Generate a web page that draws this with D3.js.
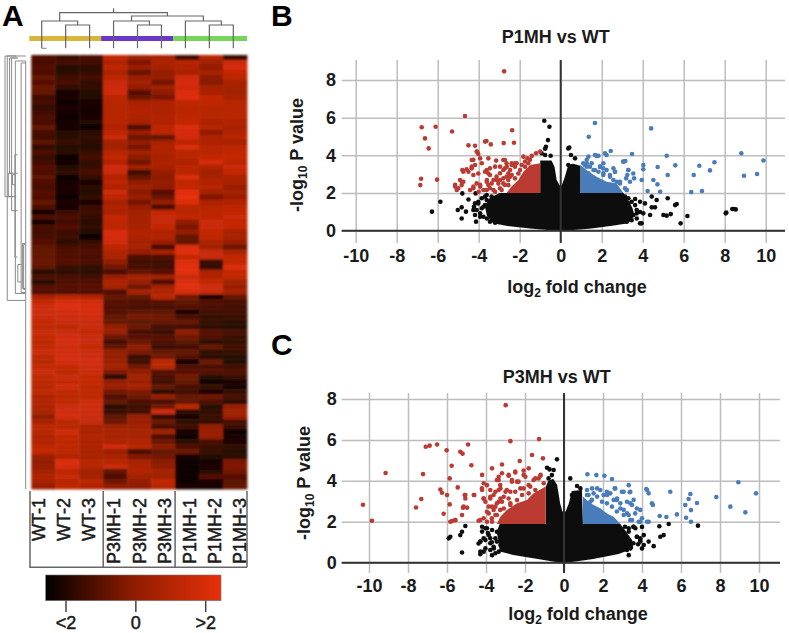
<!DOCTYPE html>
<html><head><meta charset="utf-8">
<script src="https://cdn.jsdelivr.net/npm/d3@7"></script>
<style>
html,body{margin:0;padding:0;background:#fff}
svg{display:block}
text{font-family:"Liberation Sans",Arial,sans-serif;fill:#1a1a1a}
</style></head><body>
<svg id="c" width="789" height="633"></svg>
<script>
// ---------- heatmap data (log ratio, one array per sample, top row first) ----------
const samples=["WT-1","WT-2","WT-3","P3MH-1","P3MH-2","P3MH-3","P1MH-1","P1MH-2","P1MH-3"];
const wt1=[-0.9,-1.0,-0.8,-0.9,-0.6,-0.8,-0.5,-0.6,-1.1,-1.0,-1.3,-1.1,-0.9,-1.0,-0.6,-1.0,-1.1,-0.7,-1.3,-0.9,-1.2,-1.1,-0.8,-0.9,
-0.7,-0.9,-1.0,-0.8,-0.9,-0.6,-0.9,-1.7,-0.9,-1.7,-1.0,-1.1,-1.0,-0.8,-0.7,-0.6,-0.6,-0.5,-0.7,-1.5,-0.9,-1.5,-0.8,-0.9,
0.6,1.2,1.4,1.4,1.3,1.2,1.1,1.3,1.2,1.0,1.2,1.3,1.1,0.9,1.2,1.3,1.1,1.0,0.9,1.1,
0.7,0.8,0.7,0.6,0.1,0.5,1.0,0.9,0.7,0.8,1.0,1.2,0.3,0.1,0.2,0.4,0.8,0.5,0.3];
const wt2=[-1.2,-1.0,-1.5,-1.4,-1.1,-1.0,-1.3,-1.7,-1.6,-1.8,-1.6,-1.7,-1.8,-1.7,-1.7,-1.5,-1.4,-1.2,-1.5,-1.4,-1.8,-1.7,-1.5,-1.3,
-1.8,-1.7,-1.6,-1.7,-1.8,-1.6,-1.7,-1.2,-0.9,-1.1,-0.8,-1.2,-1.1,-1.4,-1.0,-0.9,-0.9,-0.8,-1.2,-1.4,-1.0,-0.9,-0.8,-0.9,
0.9,1.6,1.7,1.5,1.4,1.3,1.0,1.3,1.5,1.6,1.4,1.5,1.6,1.5,1.2,1.0,1.3,1.2,1.4,1.1,
1.0,1.1,1.3,1.5,1.5,1.0,0.9,1.4,1.2,1.0,1.1,1.0,0.8,1.7,1.6,1.0,1.3,0.9,1.1];
const wt3=[-1.0,-1.1,-1.4,-1.3,-1.0,-1.3,-1.3,-1.5,-1.5,-1.6,-1.7,-1.7,-1.6,-1.5,-1.8,-1.4,-1.3,-1.4,-1.5,-1.2,-1.0,-1.3,-1.2,-1.0,
-1.3,-1.6,-1.4,-1.5,-1.3,-1.6,-1.2,-1.1,-1.3,-1.4,-1.3,-1.5,-1.9,-1.2,-1.0,-0.9,-1.0,-0.9,-1.3,-1.4,-1.1,-0.9,-0.8,-0.9,
0.8,1.5,1.6,1.6,1.5,1.3,1.3,1.2,1.3,1.3,1.2,1.3,1.4,1.5,1.4,1.3,1.2,1.2,1.0,1.1,
1.0,1.4,1.4,1.4,1.3,1.3,0.6,0.6,0.8,0.7,0.7,0.6,0.6,0.9,0.9,0.4,0.5,1.0,0.8];
const p3a=[1.2,0.7,1.1,0.7,1.0,1.3,1.4,1.5,1.0,0.9,0.9,0.9,0.9,0.9,0.8,1.0,1.3,0.5,0.4,0.9,1.2,0.8,1.5,1.3,
0.8,1.0,0.7,1.4,1.1,0.5,0.8,0.6,1.2,1.1,1.0,1.6,1.6,1.5,1.0,0.8,0.6,0.0,-0.4,-1.0,0.2,0.7,0.5,-0.9,
-0.6,-0.8,-0.9,-0.8,-0.7,-0.5,0.1,0.3,-0.5,-1.1,-0.7,0.2,0.1,0.3,0.5,-0.2,-1.5,0.1,0.3,-0.4,
-0.9,-0.6,-1.4,-1.2,-0.7,-0.5,0.4,0.6,0.5,0.7,1.4,0.3,0.6,0.9,1.3,-0.7,-0.9,-0.4,0.1];
const p3b=[0.4,-0.2,0.3,-0.6,0.3,0.4,0.2,-0.8,-0.5,0.6,0.7,0.8,0.7,0.5,-0.9,0.3,-0.5,0.1,-0.3,0.4,0.0,-0.4,0.5,-1.1,
-0.6,0.1,0.4,-0.1,0.3,-0.4,0.3,0.4,0.5,0.5,0.6,0.8,0.7,0.5,0.6,0.2,-0.9,-1.1,-1.0,-0.6,0.5,0.2,-0.4,0.6,
-0.6,-0.9,-1.0,-0.7,-0.3,-0.7,-0.5,-1.0,-0.8,-0.5,0.0,-0.2,-1.2,-1.1,-0.4,0.1,0.4,0.3,0.5,-0.2,
-0.5,-1.0,-1.1,-1.1,0.2,0.3,0.4,0.6,0.5,0.8,0.9,-1.0,-0.2,0.5,0.7,0.8,0.4,0.2,0.0];
const p3c=[0.6,0.7,0.5,0.2,0.2,-0.4,0.4,0.0,-0.3,0.7,0.7,0.7,0.8,0.8,1.0,1.1,-0.6,0.5,0.8,0.7,0.6,0.7,0.6,0.2,
0.0,0.2,0.1,-0.8,-0.5,0.2,-1.0,1.2,1.3,1.3,1.2,0.7,0.8,0.3,-1.0,0.5,-0.9,-1.1,-1.1,-0.8,0.4,-0.9,0.4,0.8,
0.9,-0.8,-1.0,-0.7,-0.4,-0.6,-1.0,-1.2,-0.8,-0.9,-1.2,-0.6,-0.4,1.0,0.9,-0.8,-1.0,-1.1,-0.6,-1.4,
0.1,-1.0,-0.4,1.5,-1.3,-0.5,-1.0,0.4,-0.9,-0.5,0.0,-0.6,-0.4,-0.1,0.1,0.5,0.4,1.2,0.9];
const p1a=[-1.1,0.9,0.8,0.6,1.5,1.6,1.5,1.7,1.8,1.1,1.0,1.0,1.1,1.2,1.7,1.6,1.5,1.0,1.7,0.9,0.9,0.7,1.0,0.9,
1.7,1.1,1.2,1.9,2.0,1.7,1.0,0.9,1.2,0.0,-0.3,0.2,-0.6,-0.6,1.7,1.9,1.2,1.7,1.9,1.9,1.3,1.7,1.9,1.6,
-0.4,-0.7,-0.8,-1.6,-1.0,-0.6,-1.1,0.0,-0.4,-0.7,-1.1,-0.6,-0.8,-1.8,-0.9,-0.8,-0.4,-0.6,-1.0,-1.1,
-0.6,-0.6,1.0,-1.4,-1.7,-1.3,-1.1,-1.7,-1.9,-1.4,-0.9,-0.5,-1.7,-1.8,-1.9,-1.9,-1.8,-1.8,-1.6];
const p1b=[0.9,0.4,0.1,0.5,0.0,-0.1,0.5,0.6,1.2,1.1,0.9,0.9,0.9,0.7,0.9,0.1,0.7,0.7,0.9,0.9,1.2,1.6,0.8,0.4,
0.6,0.8,0.9,0.4,-0.2,0.7,0.9,1.0,1.0,1.4,1.3,1.2,1.1,0.7,0.4,1.3,1.3,-1.2,-1.3,0.6,0.8,1.2,1.5,1.3,
-1.6,-0.9,-1.0,-1.1,-1.3,-1.2,-1.4,-0.8,-0.9,-1.4,-0.6,-1.3,-1.5,-0.5,-1.0,-0.8,-1.5,-1.8,-1.2,-1.6,
-0.5,-0.9,-1.5,-1.3,-1.2,-1.3,0.1,0.2,0.2,-1.0,-1.2,-1.2,-1.5,-1.7,-1.6,-1.5,-0.8,-1.6,-1.7];
const p1c=[-1.2,1.4,1.6,1.2,1.0,0.6,0.5,0.4,0.6,0.9,0.9,0.9,0.9,0.8,0.6,0.8,0.9,0.5,1.0,1.1,1.2,1.0,1.3,1.2,
0.7,0.5,0.3,0.5,0.3,0.8,1.0,1.2,1.3,1.2,1.2,0.5,0.6,0.3,-0.5,0.6,1.1,1.2,1.7,1.2,1.1,0.4,0.3,0.5,
-0.6,-1.0,-1.1,-1.1,-1.2,-1.4,-1.5,-1.0,-1.2,-1.3,-1.1,-1.2,-1.5,-1.5,-1.1,-0.9,-1.2,-1.6,-1.7,-1.3,
-1.0,-1.4,0.2,0.4,0.3,-1.0,-1.2,-1.8,-1.7,-1.6,-1.3,-1.5,-1.4,-0.3,-0.2,-0.4,-0.8,-0.7,-0.6];
const columns=[wt1,wt2,wt3,p3a,p3b,p3c,p1a,p1b,p1c];
const groupColors=["#d8b53c","#6b37c8","#76d65c"];
const scaleTicks=[[-2,"<2"],[0,"0"],[2,">2"]];
// column tree: [left position, right position, merge height, left child height, right child height]
const colTree=[[1,2,0.583,0,0],[0,1.5,0.683,0,0.583],[4,5,0.583,0,0],[3,4.5,0.683,0,0.583],[7,8,0.583,0,0],[6,7.5,0.683,0,0.583],
 [3.75,6.75,0.808,0.683,0.683],[0.75,5.25,0.892,0.683,0.808]];
// row tree: [depth, from row, to row, right end depth]
const rowTree=[[0.11,0.2,49.2,1],[0,0.2,28.4,0.55],[0.22,0.6,23.7,0.62],[0.16,23.7,28.4,0.3],[0.32,0.6,31.2,0.6],[0.48,20,40.5,0.6],[0.36,24,26,0.5],
 [0.5,1.2,47.8,1],[0.78,1.6,47.6,1],[0.84,37.8,46.8,0.98],[0.62,42,45.5,0.8],[1,1.2,87,1],[0.9,38,47,1]];

// ---------- volcano data: [log2 fold change, -log10 P] ----------
const xTicks=d3.range(-10,11,2), yTicks=[0,2,4,6,8];
const p1Red=[[-2.76,8.46],[-4.67,6.09],[-6.78,5.49],[-6.10,5.52],[-5.30,5.27],[-2.37,5.33],[-6.62,4.90],[-6.44,4.37],[-4.50,4.53],[-4.18,4.51],[-3.69,4.73],[-3.62,4.76],[-3.41,4.58],[-2.78,4.65],[-2.28,4.67],[-6.81,2.76],[-6.85,2.42],[-6.03,2.71],[-4.07,4.19],[-4.02,4.07],[-4.34,3.75],[-4.18,3.49],[-3.53,3.84],[-3.15,3.72],[-2.72,3.75],[-2.23,3.58],[-4.8,3.22],[-4.59,3.26],[-4.34,3.31],[-4.02,3.04],[-3.61,3.22],[-3.53,3.04],[-2.96,3.4],[-2.63,3.4],[-2.39,3.49],[-4.75,2.6],[-5.15,2.34],[-5.07,2.16],[-4.83,2.42],[-4.42,2.16],[-4.26,2.34],[-4.1,2.51],[-3.93,2.34],[-3.61,2.6],[-3.37,2.51],[-3.12,2.69],[-2.8,2.51],[-2.47,2.87],[-2.07,3.04],[-3.61,2.16],[-3.28,2.16],[-2.96,2.25],[-2.55,2.42],[-4.0,2.07],
[-1.0,4.2],[-1.2,4.11],[-1.41,3.97],[-1.62,3.84],[-1.74,3.67],[-1.58,3.58],[-1.9,3.49],[-2.23,3.4],[-2.47,3.22],[-2.39,2.96],[-2.64,3.58],[-2.8,3.75],[-2.96,3.05],[-3.04,2.5],[-3.28,2.69],[-3.53,2.43],[-3.69,3.13],[-3.6,2.69],[-2.96,2.69],[-2.72,2.43],[-2.56,2.69],
[-1.82,3.93],[-1.5,3.76],[-1.98,3.22],[-1.74,3.4],[-2.15,3.58],[-2.39,3.58],[-2.72,3.31],[-2.55,3.05],[-2.8,2.78],[-3.13,2.87],[-3.2,3.4],[-3.45,3.31],[-3.85,3.58],[-3.93,3.84],[-4.1,4.2],[-4.26,3.76],[-4.34,3.4],[-4.5,3.13],[-4.75,3.13],[-4.91,2.69],[-5.15,2.43],[-5.0,2.25],[-4.83,2.6],[-4.26,2.96],[-4.26,2.25],[-3.93,2.43],[-3.77,2.16],[-3.45,2.25],[-3.2,2.07],[-2.88,2.16],[-3.45,2.96],[-2.64,2.87],[-2.23,2.78],[-2.8,3.22]];
const p1Blue=[[1.67,5.72],[4.41,5.43],[1.37,4.99],[5.17,3.98],[8.81,4.11],[9.89,3.73],[7.5,3.63],[6.76,3.45],[5.59,3.47],[4.73,3.38],[4.03,3.49],[4.03,3.26],[3.48,4.07],[3.06,3.66],[3.15,3.7],[2.44,4.23],[2.16,4.11],[1.84,3.98],[7.28,3.2],[6.49,2.96],[5.22,2.96],[8.94,2.92],[9.58,3.01],[6.89,2.11],[6.37,2.05],[4.85,2.07],[4.72,2.46],[4.52,2.69],[4.24,2.11],[3.95,2.69],[3.54,3.04],[3.58,2.78],[3.3,3.22],[3.25,2.96],[3.19,2.78],[2.65,3.13],[2.57,3.31],[2.08,3.58],[1.92,3.4],[1.35,3.93],[1.27,3.58],[1.43,3.4],[1.67,3.22],[2.08,2.96],[2.41,2.87],[2.89,2.51],[3.22,2.16],[2.73,2.6],[1.27,3.76],[1.1,3.58],[1.75,3.97],[2.24,4.02],[1.92,3.4],[2.08,3.05],[3.05,3.67],[3.3,3.22],[3.38,2.6],
[1.27,3.4],[1.51,3.58],[1.35,3.05],[1.6,3.22],[1.84,3.13],[2.24,3.22],[2.4,2.96],[2.65,3.13],[2.57,2.69],[2.89,2.6],[3.14,2.25],[3.22,2.16],[2.08,3.31],[1.67,4.02],[1.18,3.49]];
const p1Black=[[-0.8,5.84],[-0.55,5.52],[-0.62,4.81],[-0.72,4.46],[-0.76,4.35],[-0.93,4.11],[-0.76,4.02],[-0.49,3.98],[0.37,4.37],[0.42,4.42],[0.5,4.02],[0.7,3.84],[0.37,3.49],[-5.87,1.54],[-6.28,1.01],[-5.02,1.1],[-4.83,1.24],[-4.83,0.65],[-4.62,1.01],[-4.5,1.66],[-4.8,1.98],[-4.15,1.98],[-4.02,1.45],[-4.23,1.27],[-4.13,0.48],[-3.93,0.74],[-3.77,0.74],[-4.26,1.1],[-3.77,1.27],[-3.61,1.63],[-3.37,1.81],[-3.2,0.42],[3.63,1.68],[3.87,1.54],[4.11,1.45],[4.44,1.81],[4.68,1.63],[4.44,1.24],[4.6,1.24],[5.22,1.72],[5.58,1.36],[5.66,1.42],[5.01,0.83],[5.17,0.8],[5.37,0.88],[3.95,0.39],[3.71,0.92],[4.03,0.92],[4.36,0.83],[6.18,0.78],[5.85,0.39],[8.05,0.92],[8.08,0.97],[8.37,1.15],[8.54,1.13],[8.44,1.15],
[-4.18,1.45],[-4.02,1.54],[-3.85,1.72],[-3.69,1.81],[-3.61,1.89],[-4.1,1.1],[-3.93,0.92],[-3.6,0.65],[-3.45,0.83],[-3.85,1.19],[-3.69,1.36],[-3.45,0.48],[-4.18,0.83],[3.14,1.81],[3.3,1.72],[3.46,1.54],[3.63,1.36],[3.71,1.1],[3.55,0.83],[3.71,0.65],[3.46,0.56],[3.87,0.99],[3.3,1.45],[3.87,0.39],[3.22,0.48],[2.97,1.63]];
const p1Mass=[[-1,3.72],[-0.45,3.72],[-0.3,3.4],[-0.2,2.7],[-0.05,2.4],[0.05,2.4],[0.2,2.85],[0.37,3.5],[0.6,3.55],[0.97,3.45],[0.97,2],[3.06,2],[3.3,1.6],[3.5,1.2],[3.6,0.8],[3.3,0.4],[2.6,0.28],[1.5,0.12],[0.5,0.03],[0,0],[-0.5,0.03],[-1.5,0.12],[-2.6,0.25],[-3.3,0.4],[-3.6,0.8],[-3.7,1.3],[-3.5,1.7],[-3.0,2],[-1,2]];
const p1RedWedge=[[-1,2],[-1,3.58],[-1.5,3.49],[-1.82,3.13],[-2.06,2.69],[-2.4,2.34],[-2.64,2]];
const p1BlueWedge=[[0.97,2],[0.97,3.49],[1.26,3.22],[1.75,2.87],[2.24,2.6],[2.72,2.52],[3.06,2]];

const p3Red=[[-2.99,7.7],[-2.75,5.94],[-1.28,6.04],[-1.08,5.1],[-1.64,5.26],[-2.27,4.97],[-3.18,4.8],[-3.69,4.61],[-4.92,5.78],[-5.32,5.42],[-5.2,5.33],[-6.02,5.49],[-6.51,5.78],[-6.89,5.72],[-7.09,5.67],[-5.76,4.74],[-4.75,4.76],[-9.15,4.38],[-7.23,4.33],[-5.86,4.12],[-5.45,3.68],[-6.34,3.58],[-6.26,3.42],[-6.0,3.31],[-7.32,3.11],[-7.59,2.7],[-10.31,2.83],[-9.85,2.05],[-5.86,2.85],[-6.17,2.39],[-5.74,2.04],[-5.57,2.08],[-5.09,3.31],[-5.06,3.14],[-4.6,3.31],[-5.18,2.69],[-4.97,2.69],[-5.23,2.33],[-4.38,2.05],[-4.12,3.88],[-4.21,3.63],[-3.95,3.79],[-4.12,3.14],[-3.78,3.14],[-3.95,2.49],[-3.35,4.2],[-3.44,4.04],[-2.84,4.25],[-2.5,4.41],[-2.07,4.5],[-1.81,4.61],[-1.98,4.2],[-1.47,4.12],[-1.21,4.25],[-2.67,3.96],[-2.41,3.96],[-3.26,3.63],[-3.61,3.31],[-3.26,3.14],[-3.69,2.74],[-3.44,2.33],[-3.95,2.0],[-2.75,3.47],[-2.24,3.63],[-1.81,3.79],[-3.09,2.65],[-2.75,2.82],[-2.41,3.06],
[-1.2,4.29],[-1.56,4.04],[-2.07,4.29],[-2.5,4.45],[-2.67,4.04],[-2.33,3.96],[-2.07,3.63],[-1.73,3.72],[-2.93,3.55],[-3.27,3.8],[-3.52,3.47],[-3.78,3.22],[-4.03,2.98],[-3.86,2.41],[-3.52,2.74],[-4.29,2.09],[-3.09,3.22],[-2.75,2.9],[-3.35,2.98],[-3.7,2.17],
[-1.04,3.88],[-1.3,4.12],[-1.47,3.55],[-1.81,3.39],[-2.15,3.31],[-2.5,3.47],[-2.84,3.14],[-3.18,2.98],[-3.44,2.9],[-3.61,2.58],[-3.86,2.74],[-4.12,3.14],[-4.2,3.55],[-3.78,3.55],[-3.35,3.55],[-3.0,3.47],[-3.35,4.04],[-3.18,4.37],[-2.84,4.29],[-4.12,2.17],[-3.69,2.0],[-3.52,2.33],[-3.27,2.58],[-4.63,3.31],[-5.06,3.31],[-5.15,2.74],[-5.58,2.09],[-5.83,2.0],[-4.2,4.29]];
const p3Blue=[[1.2,4.32],[1.66,4.28],[2.07,4.25],[2.46,4.09],[3.32,3.79],[4.22,3.6],[4.34,3.39],[2.6,3.63],[3.06,3.47],[3.37,3.44],[5.45,3.47],[4.56,2.82],[6.48,3.36],[6.39,3.11],[6.22,2.82],[6.51,2.57],[6.82,2.92],[7.81,3.21],[8.94,3.93],[9.85,3.39],[8.53,2.74],[9.3,2.46],[5.79,2.36],[4.91,2.28],[5.25,2.23],[6.26,2.2],[6.51,2.0],[4.34,2.0],[3.91,2.0],[3.74,2.65],[3.49,2.82],[2.89,2.65],[3.06,2.33],[3.23,2.98],[2.72,3.14],[2.21,3.31],[1.86,3.55],[1.44,3.63],[1.26,3.31],[1.35,2.98],[4,2.17],[3.4,2.08],[1.18,3.55],[1.7,3.63],[2.2,3.47],[2.63,3.63],[2.97,3.47],[3.4,3.47],[2.55,3.07],[2.89,2.9],[3.4,2.9],[3.57,3.07],[3.91,2.58],[3.65,2.41],[4.26,2.0],[3.32,2.33],[4.51,2.9],[4.26,3.55],
[1.18,3.31],[1.43,3.07],[1.7,3.23],[1.52,3.39],[1.26,2.9],[1.95,2.98],[2.2,2.9],[2.46,2.74],[2.03,3.31],[2.71,2.5],[3.06,2.58],[3.23,2.41],[3.49,2.09],[3.83,2.0],[2.71,3.07],[2.37,3.39]];
const p3Black=[[-0.36,5.05],[-0.87,4.64],[-0.74,4.56],[-0.53,4.53],[-0.62,4.28],[-0.79,4.12],[0.32,4.12],[0.67,3.75],[0.84,3.63],[0.41,3.31],[-5.06,1.79],[-5.83,1.27],[-5.91,1.19],[-5.23,1.51],[-5.32,1.35],[-5.23,0.5],[-4.29,1.03],[-4.38,0.94],[-4.12,1.19],[-4.2,1.76],[-3.95,1.68],[-4.29,0.41],[-4.12,0.54],[-4.29,0.54],[-3.69,0.37],[-3.6,0.7],[-3.78,1.19],[-3.44,1.51],[-3.26,0.86],[-3.44,1.03],[-3.9,1.45],[-3.7,1.0],[6.87,1.81],[5.37,1.89],[4.89,1.78],[5.11,1.35],[4.94,1.27],[4.6,0.81],[4.34,1.03],[3.91,1.19],[3.74,1.27],[4.09,0.86],[3.66,1.68],[3.32,1.68],[3.57,1.76],[3.32,0.37],[3.91,1.03],[4.0,1.75],[3.8,0.9],
[-4.2,1.52],[-4.03,1.68],[-3.86,1.35],[-3.69,1.6],[-4.29,1.03],[-4.03,1.11],[-3.78,0.95],[-3.52,1.19],[-4.03,0.7],[-3.78,0.62],[-3.61,0.78],[-3.35,0.54],[-3.52,0.46],[3.13,1.76],[3.56,1.76],[3.32,1.52],[3.74,1.27],[3.91,1.11],[4.0,0.7],[3.56,0.95],[3.4,0.7],[4.09,1.35],[3.23,0.62],[2.97,1.6]];
const p3Mass=[[-0.94,1.89],[-0.94,3.7],[-0.8,4.0],[-0.55,4.1],[-0.35,3.8],[-0.2,2.9],[-0.08,2.5],[0.08,2.5],[0.25,2.9],[0.4,3.5],[0.92,3.55],[0.97,1.89],[2.89,1.89],[3.2,1.5],[3.5,1.1],[3.55,0.7],[2.8,0.42],[1.5,0.18],[0.5,0.05],[0,0],[-0.5,0.05],[-1.5,0.2],[-2.6,0.38],[-3.3,0.55],[-3.35,1.0],[-3.45,1.5],[-3.3,1.89]];
const p3RedWedge=[[-0.94,1.89],[-0.94,3.72],[-1.56,3.39],[-1.9,3.07],[-2.41,2.9],[-2.93,2.58],[-3.27,2.25],[-3.44,1.89]];
const p3BlueWedge=[[0.97,1.89],[0.97,3.23],[1.35,2.9],[1.86,2.66],[2.2,2.41],[2.55,2.25],[2.89,1.89]];

// ---------- drawing ----------
const svg=d3.select("#c");
const defs=svg.append("defs");
defs.append("filter").attr("id","soft").attr("x","-2%").attr("y","-2%").attr("width","104%").attr("height","104%")
  .append("feGaussianBlur").attr("stdDeviation","0.9");
defs.append("filter").attr("id","soft2").attr("x","-2%").attr("y","-2%").attr("width","104%").attr("height","104%")
  .append("feGaussianBlur").attr("stdDeviation","0.4");
const lg=defs.append("linearGradient").attr("id","ramp");
const heat=d3.scaleLinear().domain([-2,0,2]).range(["#000000","#8f1c00","#e6300a"]).clamp(true);
[-2,-1,0,1,2].forEach(v=>lg.append("stop").attr("offset",(v+2)/4).attr("stop-color",heat(v)));

const panel=(t,x,y)=>svg.append("text").attr("x",x).attr("y",y).attr("font-size",30).attr("font-weight",700).style("fill","#000").text(t);
panel("A",2,26);panel("B",271,26);panel("C",271,355);

// heatmap
const nRows=wt1.length;
const cx=d3.scaleBand().domain(d3.range(9)).range([31.3,247]);
const cy=d3.scaleBand().domain(d3.range(nRows)).range([55,489]);
const hg=svg.append("g").attr("filter","url(#soft)");
columns.forEach((col,i)=>{
  hg.append("g").selectAll("rect").data(col).join("rect")
   .attr("x",cx(i)).attr("width",cx.bandwidth()+0.4)
   .attr("y",(d,r)=>cy(r)).attr("height",cy.bandwidth()+0.4)
   .attr("fill",d=>heat(d));
});

// group bar + column tree
const leaf=d3.scaleLinear().domain([0,8]).range([41.7,233.3]);
const th=d3.scaleLinear().domain([0,1]).range([48.3,8.3]);
groupColors.forEach((c,i)=>svg.append("rect").attr("x",cx(i*3)-2).attr("y",36).attr("width",cx.bandwidth()*3+(i==1?0:2)).attr("height",5).attr("fill",c));
const tg=svg.append("g").attr("fill","none").attr("stroke","#666").attr("stroke-width",1.2);
tg.selectAll("path").data(colTree).join("path")
  .attr("d",d=>`M${leaf(d[0])},${th(d[3])}V${th(d[2])}H${leaf(d[1])}V${th(d[4])}`);
tg.append("path").attr("d",`M${leaf(3)},${th(0.892)}V${th(1)}`);
tg.append("path").attr("d",`M${leaf(0)},${th(0)}h5`).attr("stroke-width",0.8);

// row tree
const rd=d3.scaleLinear().domain([0,1]).range([5,25.7]);
const rg=svg.append("g").attr("fill","none").attr("stroke","#8a8a8a").attr("stroke-width",1);
rg.selectAll("path").data(rowTree).join("path")
 .attr("d",d=>{const y=r=>55+r*cy.step();return `M${rd(d[3])},${y(d[1])}H${rd(d[0])}V${y(d[2])}H${rd(d[3])}`;});

// sample labels
const lx=d3.scaleLinear().domain([0,8]).range([45,246]);
svg.append("g").selectAll("text").data(samples).join("text")
 .attr("transform",(d,i)=>`translate(${lx(i)},498) rotate(-90)`).attr("text-anchor","end")
 .attr("font-size",18).attr("stroke","#1a1a1a").attr("stroke-width",0.5).text(d=>d);
const bracket=svg.append("g").attr("fill","none").attr("stroke","#666").attr("stroke-width",1.5);
[0,3,6].forEach(i=>bracket.append("path").attr("d",`M${cx(i)-(i==0?1.3:0)},491V567.3H${cx(i+3)||247}`));
bracket.append("path").attr("d","M247,491V567.3");

// colour scale
const bx=d3.scaleLinear().domain([-2,2]).range([66,205.7]);
svg.append("rect").attr("x",45.7).attr("y",575).attr("width",175.3).attr("height",25.7).attr("fill","url(#ramp)").attr("stroke","#777").attr("stroke-width",0.6);
const sk=svg.append("g").selectAll("g").data(scaleTicks).join("g").attr("transform",d=>`translate(${bx(d[0])},0)`);
sk.append("line").attr("y1",600.7).attr("y2",612).attr("stroke","#444").attr("stroke-width",1.5);
sk.append("text").attr("y",629).attr("text-anchor","middle").attr("font-size",18).attr("stroke","#1a1a1a").attr("stroke-width",0.5).text(d=>d[1]);

// volcano panels
function volcano(o){
  const x=d3.scaleLinear().domain([-10,10]).range(o.xr);
  const y=d3.scaleLinear().domain([0,8]).range(o.yr);
  const g=svg.append("g");
  const ax=d3.axisBottom(x).tickValues(xTicks).tickFormat(d=>String(d)).tickSize(o.gridB-o.gridT);
  const xa=g.append("g").attr("transform",`translate(0,${o.gridT})`).call(ax);
  xa.select(".domain").remove();
  xa.selectAll("line").attr("stroke","#bdbdbd").attr("stroke-width",1.5);
  xa.selectAll("text").attr("dy",0).attr("y",o.tickBase-o.gridT).attr("font-size",18).attr("font-weight",700).attr("font-family","Liberation Sans").style("fill","#1a1a1a");
  const ay=d3.axisLeft(y).tickValues(yTicks).tickFormat(d=>String(d)).tickSize(o.gridR-o.gridL);
  const ya=g.append("g").attr("transform",`translate(${o.gridR},0)`).call(ay);
  ya.select(".domain").remove();
  ya.selectAll("line").attr("stroke","#bdbdbd").attr("stroke-width",1.5);
  ya.selectAll("text").attr("x",o.labR-o.gridR).attr("font-size",18).attr("font-weight",700).attr("font-family","Liberation Sans").style("fill","#1a1a1a");
  const line=d3.line().x(d=>x(d[0])).y(d=>y(d[1]));
  const m=g.append("g").attr("filter","url(#soft2)");
  m.append("path").attr("d",line(o.mass)+"Z").attr("fill","#111");
  m.append("path").attr("d",line(o.redW)+"Z").attr("fill",o.red);
  m.append("path").attr("d",line(o.blueW)+"Z").attr("fill",o.blue);
  const dots=(arr,c)=>m.append("g").selectAll("circle").data(arr).join("circle").attr("cx",d=>x(d[0])).attr("cy",d=>y(d[1])).attr("r",2.3).attr("fill",c);
  dots(o.black,"#111");dots(o.redP,o.red);dots(o.blueP,o.blue);
  // zero lines
  g.append("line").attr("x1",o.gridL).attr("x2",o.gridR).attr("y1",y(0)).attr("y2",y(0)).attr("stroke","#333").attr("stroke-width",2);
  g.append("line").attr("x1",x(0)).attr("x2",x(0)).attr("y1",o.gridT).attr("y2",o.gridB).attr("stroke","#333").attr("stroke-width",2);
  // titles
  g.append("text").attr("x",o.titleX).attr("y",o.titleY).attr("text-anchor","middle").attr("font-size",18).attr("font-weight",700).text(o.title);
  const xt=g.append("text").attr("x",o.xtX).attr("y",o.xtY).attr("text-anchor","middle").attr("font-size",18).attr("font-weight",700);
  xt.append("tspan").text("log");xt.append("tspan").attr("font-size",12).attr("dy",4).text("2");xt.append("tspan").attr("dy",-4).text(" fold change");
  const yt=g.append("text").attr("transform",`translate(${o.ytX},${o.ytY}) rotate(-90)`).attr("text-anchor","middle").attr("font-size",18).attr("font-weight",700);
  yt.append("tspan").text("-log");yt.append("tspan").attr("font-size",12).attr("dy",4).text("10");yt.append("tspan").attr("dy",-4).text(" P value");
}
volcano({title:"P1MH vs WT",xr:[355.7,765.7],yr:[230.7,80],gridT:60,gridB:243,gridL:341.7,gridR:785,tickBase:261.7,labR:336,
 titleX:555.7,titleY:42.7,xtX:577,xtY:293,ytX:303,ytY:155,mass:p1Mass,redW:p1RedWedge,blueW:p1BlueWedge,redP:p1Red,blueP:p1Blue,black:p1Black,red:"#bb3b33",blue:"#4a7cba"});
volcano({title:"P3MH vs WT",xr:[369,759],yr:[562.7,399],gridT:393,gridB:573,gridL:341.7,gridR:780,tickBase:591.7,labR:336.7,
 titleX:556.7,titleY:382.7,xtX:578,xtY:620,ytX:310,ytY:483,mass:p3Mass,redW:p3RedWedge,blueW:p3BlueWedge,redP:p3Red,blueP:p3Blue,black:p3Black,red:"#bb3b33",blue:"#4a7cba"});
</script>
</body></html>
